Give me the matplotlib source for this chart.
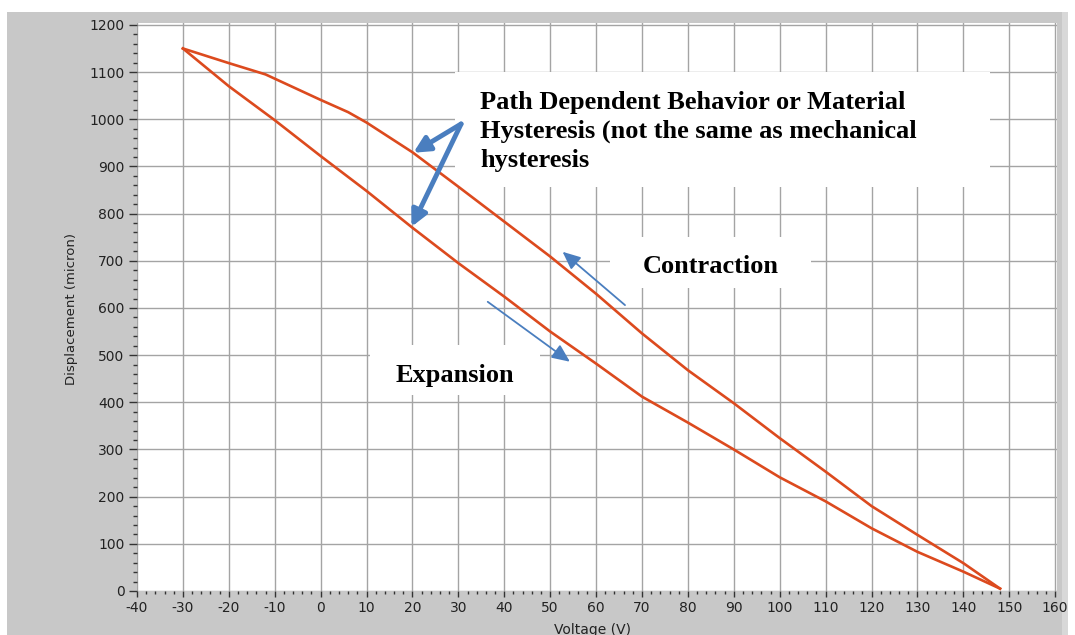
import numpy as np
import matplotlib
matplotlib.use("Agg")
import matplotlib.pyplot as plt
from matplotlib.patches import Rectangle
from matplotlib.ticker import MultipleLocator

plt.rcParams["axes.unicode_minus"] = False

# -----------------------------
# Data
# -----------------------------
# expansion branch: voltage goes up, displacement goes down
exp_volt = [-30, -20, -10, 0, 10, 20, 30, 40, 50, 60, 70, 80, 90,
            100, 110, 120, 130, 140, 148]
exp_disp = [1150, 1070, 998, 922, 848, 770, 695, 624, 550, 482, 412, 357, 300,
            241, 190, 133, 83, 41, 5]

# contraction branch: voltage goes back down
con_volt = [148, 140, 130, 120, 110, 100, 90, 80, 70, 60, 50, 40, 30,
            20, 10, 6, 0, -12, -20, -30]
con_disp = [5, 59, 119, 180, 253, 324, 398, 468, 546, 630, 709, 783, 857,
            930, 993, 1015, 1041, 1095, 1119, 1150]

note_text = ("Path Dependent Behavior or Material\n"
             "Hysteresis (not the same as mechanical\n"
             "hysteresis")
label_contraction = "Contraction"
label_expansion = "Expansion"

# -----------------------------
# Style
# -----------------------------
LINE_COLOR = "#dc4a1e"
ARROW_COLOR = "#4a7ebf"
PANEL_GRAY = "#c8c8c8"
SERIF = ["Liberation Serif", "DejaVu Serif"]

W, H = 1075, 635
fig = plt.figure(figsize=(W / 100, H / 100), dpi=100, facecolor="white")

# gray LabVIEW-like panel behind the graph
fig.add_artist(Rectangle((7 / W, 0), (1068 - 7) / W, (H - 12) / H,
                         transform=fig.transFigure, facecolor=PANEL_GRAY,
                         edgecolor="none", zorder=-10))
fig.add_artist(Rectangle((1062 / W, 0), 6 / W, (H - 12) / H,
                         transform=fig.transFigure, facecolor="#d8d8d8",
                         edgecolor="none", zorder=-9))

ax = fig.add_axes([137 / W, (H - 591) / H, (1057 - 137) / W, (591 - 23) / H])
ax.set_facecolor("white")
ax.set_xlim(-40, 160.4)
ax.set_ylim(0, 1204)

ax.xaxis.set_major_locator(MultipleLocator(10))
ax.xaxis.set_minor_locator(MultipleLocator(2))
ax.yaxis.set_major_locator(MultipleLocator(100))
ax.yaxis.set_minor_locator(MultipleLocator(20))
ax.grid(True, which="major", color="#a4a4a4", linewidth=1.0, zorder=0)
ax.set_axisbelow(True)
for s in ax.spines.values():
    s.set_visible(False)

ax.tick_params(axis="both", which="both", direction="out", colors="#333333",
               labelcolor="#222222", labelsize=10, width=1.0)
ax.tick_params(axis="y", which="major", length=6, pad=3)
ax.tick_params(axis="y", which="minor", length=3)
ax.tick_params(axis="x", which="major", length=4, pad=3)
ax.tick_params(axis="x", which="minor", length=2.5)

fig.text(72 / W, (H - 309) / H, "Displacement (micron)", rotation=90,
         ha="center", va="center", fontsize=9.5, color="#222222")
fig.text(593 / W, 1 / H, "Voltage (V)", ha="center", va="baseline",
         fontsize=10, color="#222222")

# -----------------------------
# Hysteresis loop
# -----------------------------
ax.plot(exp_volt, exp_disp, color=LINE_COLOR, linewidth=1.9, zorder=5,
        solid_joinstyle="round")
ax.plot(con_volt, con_disp, color=LINE_COLOR, linewidth=1.9, zorder=5,
        solid_joinstyle="round")

# -----------------------------
# Annotations (white boxes over the grid)
# -----------------------------
for (x0, y0, w, h) in [(29.3, 856, 116.5, 244), (63.0, 642, 43.8, 108),
                       (10.8, 415, 37.0, 106)]:
    ax.add_patch(Rectangle((x0, y0), w, h, facecolor="white",
                           edgecolor="none", zorder=2))

# baseline of the last line sits at the given y
ax.text(34.7, 899, note_text, family=SERIF, fontweight="bold",
        fontsize=19, va="baseline", ha="left", linespacing=1.32, zorder=6)
ax.text(70.2, 675, label_contraction, family=SERIF, fontweight="bold",
        fontsize=19, va="baseline", ha="left", zorder=6)
ax.text(16.4, 444, label_expansion, family=SERIF, fontweight="bold",
        fontsize=19, va="baseline", ha="left", zorder=6)

thick = dict(arrowstyle="-|>", color=ARROW_COLOR, lw=3.5,
             mutation_scale=24, shrinkA=0, shrinkB=0)
ax.annotate("", xy=(20.2, 929), xytext=(30.6, 990), arrowprops=thick, zorder=7)
ax.annotate("", xy=(19.8, 772), xytext=(30.6, 990), arrowprops=thick, zorder=7)

thin = dict(arrowstyle="-|>,head_length=0.45,head_width=0.2", color=ARROW_COLOR,
            lw=1.3, mutation_scale=24, shrinkA=0, shrinkB=0)
ax.annotate("", xy=(52.7, 719), xytext=(66.3, 606), arrowprops=thin, zorder=7)
ax.annotate("", xy=(54.3, 486), xytext=(36.4, 613), arrowprops=thin, zorder=7)

fig.savefig("out.png", dpi=100, facecolor="white")
